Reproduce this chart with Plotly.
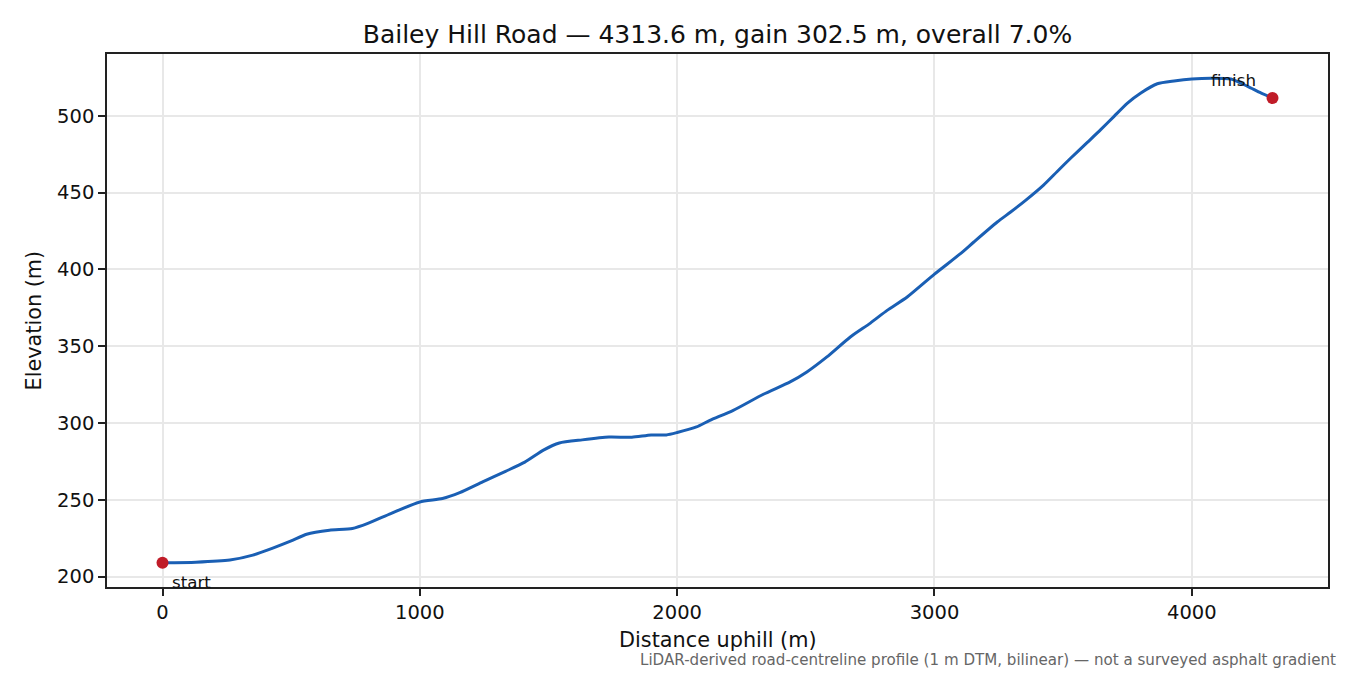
import plotly.graph_objects as go

distance_m = [0, 130, 262, 351, 426, 500, 560, 649, 738, 798, 887, 1000, 1088, 1155,
              1244, 1333, 1408, 1482, 1542, 1631, 1735, 1824, 1899, 1958, 2000, 2075,
              2127, 2218, 2335, 2439, 2504, 2582, 2673, 2751, 2816, 2894, 3000, 3101,
              3153, 3244, 3296, 3354, 3425, 3477, 3529, 3594, 3646, 3698, 3750, 3802,
              3866, 3931, 4000, 4074, 4152, 4217, 4268, 4313.6]
elevation_m = [209.0, 209.4, 210.8, 214.0, 218.4, 223.2, 227.6, 230.2, 231.3, 234.6,
               241.0, 248.6, 250.8, 254.6, 261.6, 268.5, 274.5, 282.5, 287.0, 289.0,
               290.8, 290.7, 292.2, 292.2, 293.8, 297.4, 301.7, 308.2, 318.7, 326.7,
               333.2, 343.0, 356.0, 365.0, 373.3, 382.0, 396.9, 410.2, 417.8, 430.8,
               437.3, 444.9, 455.0, 463.7, 472.3, 482.6, 490.9, 499.6, 508.2, 514.8,
               520.8, 522.6, 523.9, 524.4, 523.9, 519.1, 514.8, 511.5]
x_ticks = [0, 1000, 2000, 3000, 4000]
y_ticks = [200, 250, 300, 350, 400, 450, 500]

title_text = "Bailey Hill Road — 4313.6 m, gain 302.5 m, overall 7.0%"
x_label = "Distance uphill (m)"
y_label = "Elevation (m)"
footnote = "LiDAR-derived road-centreline profile (1 m DTM, bilinear) — not a surveyed asphalt gradient"

FONT = "DejaVu Sans"
LINE_BLUE = "#1a5fb4"
RED = "#c01c28"

W, H = 1342, 667

xmin, xmax = min(distance_m), max(distance_m)
ymin, ymax = min(elevation_m), max(elevation_m)
xpad = (xmax - xmin) * 0.05
ypad = (ymax - ymin) * 0.05

fig = go.Figure()
fig.add_trace(go.Scatter(x=distance_m, y=elevation_m, mode="lines",
                         line=dict(color=LINE_BLUE, width=3, shape="spline", smoothing=0.6),
                         showlegend=False, hoverinfo="skip"))
fig.add_trace(go.Scatter(x=[distance_m[0], distance_m[-1]],
                         y=[elevation_m[0], elevation_m[-1]],
                         mode="markers", marker=dict(color=RED, size=12),
                         showlegend=False, hoverinfo="skip", cliponaxis=False))

axis_common = dict(showline=True, linecolor="#222222", linewidth=1.6, mirror=True,
                   ticks="outside", ticklen=7, tickwidth=1.6, tickcolor="#222222",
                   showgrid=True, gridcolor="#e8e8e8", gridwidth=1.5, zeroline=False,
                   tickfont=dict(family=FONT, size=19.5, color="#111111"))

fig.update_xaxes(range=[xmin - xpad, xmax + xpad], tickvals=x_ticks,
                 ticktext=[str(v) for v in x_ticks], **axis_common)
fig.update_yaxes(range=[ymin - ypad, ymax + ypad], tickvals=y_ticks,
                 ticktext=[str(v) for v in y_ticks], **axis_common)

annotations = [
    dict(text=x_label, xref="paper", yref="paper", x=0.5, y=-0.0994,
         xanchor="center", yanchor="middle", showarrow=False,
         font=dict(family=FONT, size=20.8, color="#111111")),
    dict(text=y_label, xref="paper", yref="paper", x=-0.0598, y=0.5,
         xanchor="center", yanchor="middle", textangle=-90, showarrow=False,
         font=dict(family=FONT, size=20.8, color="#111111")),
    dict(text=footnote, xref="paper", yref="paper", x=1.0082, y=-0.137,
         xanchor="right", yanchor="middle", showarrow=False,
         font=dict(family=FONT, size=15.1, color="#666666")),
    dict(text="start", x=distance_m[0], y=elevation_m[0], xanchor="left",
         yanchor="middle", xshift=7, yshift=-19, showarrow=False,
         font=dict(family=FONT, size=16.7, color="#111111")),
    dict(text="finish", x=distance_m[-1], y=elevation_m[-1], xanchor="left",
         yanchor="middle", xshift=-64, yshift=18, showarrow=False,
         font=dict(family=FONT, size=16.7, color="#111111")),
]

fig.update_layout(
    width=W, height=H,
    margin=dict(l=99, r=22, t=46, b=88),
    paper_bgcolor="white", plot_bgcolor="white",
    title=dict(text=title_text, x=0.5, xref="paper", y=1 - 26 / H,
               yref="container", xanchor="center", yanchor="middle",
               font=dict(family=FONT, size=25, color="#111111")),
    annotations=annotations,
    font=dict(family=FONT),
)

fig.write_html("out.html")
